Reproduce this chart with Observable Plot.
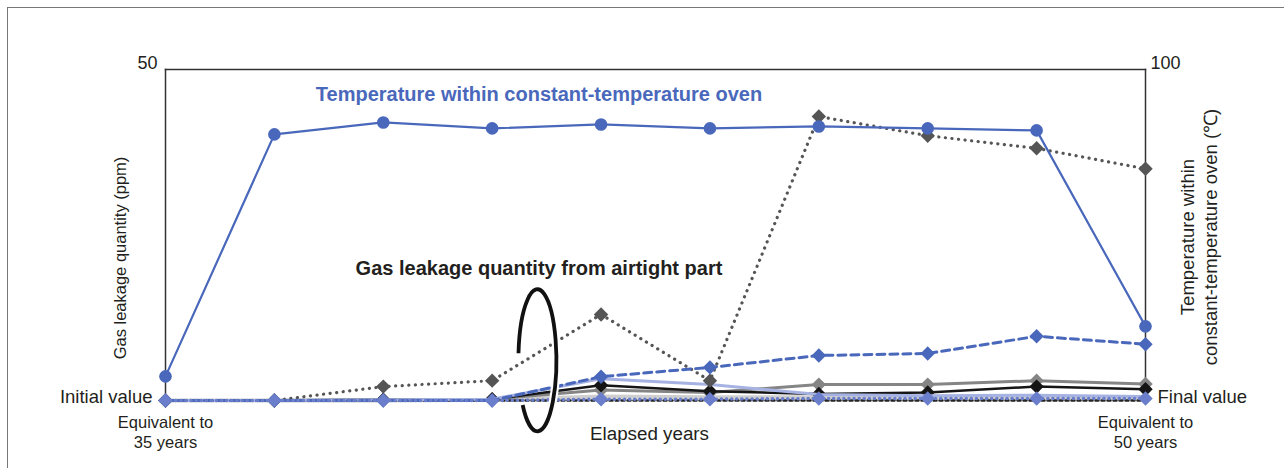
<!DOCTYPE html>
<html>
<head>
<meta charset="utf-8">
<script src="https://cdn.jsdelivr.net/npm/d3@7"></script>
<script src="https://cdn.jsdelivr.net/npm/@observablehq/plot@0.6"></script>
<style>
  html, body { margin: 0; padding: 0; background: #fff; }
  #wrap { position: relative; width: 1284px; height: 468px; overflow: hidden; }
  #frame { position: absolute; left: 7px; top: 7px; width: 1400px; height: 600px;
           border-left: 1px solid #777; border-top: 1px solid #777; }
  #chart { position: absolute; left: 0; top: 0; }
</style>
</head>
<body>
<div id="wrap"><div id="frame"></div><div id="chart"></div></div>
<script>
// Measurement steps from "equivalent to 35 years" to "equivalent to 50 years"
const steps = [0, 1, 2, 3, 4, 5, 6, 7, 8, 9];
const stepLabels = ["Equivalent to\n35 years", "", "", "", "", "", "", "", "", "Equivalent to\n50 years"];

// Oven temperature (°C, right axis 0–100)
const ovenTemp = [7.3, 80.4, 84.0, 82.2, 83.4, 82.2, 82.8, 82.2, 81.6, 22.4];

// Gas leakage from the airtight part (ppm, left axis 0–50), one array per sample
const leakDarkDotted = [0, 0, 2.1, 3.0, 13.0, 3.0, 42.9, 40.0, 38.1, 35.0];
const leakBlueDashed = [0, 0, 0, 0, 3.6, 5.0, 6.8, 7.1, 9.7, 8.5];
const leakGray       = [0, 0, 0.1, 0.2, 1.6, 1.2, 2.4, 2.4, 3.0, 2.5];
const leakBlack      = [0, 0, 0.1, 0.2, 2.3, 1.4, 1.0, 1.2, 2.1, 1.7];
const leakLightBlue  = [0, 0, 0.1, 0.2, 3.3, 2.4, 0.9, 0.7, 0.8, 0.6];
const leakLightGray  = [0, 0, 0, 0.1, 0.6, 0.5, 0.5, 0.5, 0.5, 0.5];
const leakBlackDot   = [0, 0, 0, 0, 0, 0, 0, 0, 0, 0];
const leakBlueDotted = [0, 0, 0, 0, 0.2, 0.2, 0.3, 0.3, 0.3, 0.3];

const ppmMax = 50;
const tempMax = 100;

const BLUE = "#4a68bb";
const TEXT = "#231f20";

const rows = arr => arr.map((v, i) => ({step: steps[i], v}));
// the temperature shares the frame: 100 °C sits at the top like 50 ppm
const tempRows = ovenTemp.map((t, i) => ({step: steps[i], v: t * ppmMax / tempMax}));

function series(arr, line, marker) {
  const d = rows(arr);
  const out = [Plot.line(d, {x: "step", y: "v", ...line})];
  if (marker) out.push(Plot.dot(d, {x: "step", y: "v", symbol: "diamond2", r: 6.5, stroke: null, ...marker}));
  return out;
}

const dotted = {strokeDasharray: "0.1 6.5", strokeLinecap: "round"};

const chart = Plot.plot({
  width: 1284,
  height: 468,
  marginLeft: 165,
  marginRight: 139,
  marginTop: 69,
  marginBottom: 68,
  style: {fontFamily: "'Liberation Sans', Arial, Helvetica, sans-serif", color: TEXT, background: "transparent"},
  x: {domain: [0, 9], axis: null},
  y: {domain: [0, ppmMax], axis: null},
  marks: [
    // frame: top, left and right edges
    Plot.frame({anchor: "top", stroke: "#333", strokeWidth: 1.5}),
    Plot.frame({anchor: "left", stroke: "#333", strokeWidth: 1.5}),
    Plot.frame({anchor: "right", stroke: "#333", strokeWidth: 1.5}),

    // left axis (ppm)
    Plot.axisY([ppmMax], {anchor: "left", tickSize: 0, tickPadding: 8, dy: -6, fontSize: 18, tickFormat: () => "50", label: null}),
    Plot.axisY([0], {anchor: "left", tickSize: 0, tickPadding: 13, dy: -3, fontSize: 18.5, tickFormat: () => "Initial value", label: null}),
    // right axis (°C)
    Plot.axisY([ppmMax], {anchor: "right", tickSize: 0, tickPadding: 5, dy: -6, fontSize: 18, tickFormat: () => "100", label: null}),
    Plot.axisY([0], {anchor: "right", tickSize: 0, tickPadding: 12, dy: -3, fontSize: 18.5, tickFormat: () => "Final value", label: null}),
    // x axis labels
    Plot.text(steps.filter((s, i) => stepLabels[i]), {x: d => d, y: 0, text: d => stepLabels[d], dy: 31, fontSize: 16.5, lineHeight: 1.22, fill: TEXT}),
    Plot.text(["Elapsed years"], {frameAnchor: "bottom", textAnchor: "middle", lineAnchor: "middle", dx: -6, dy: 33, fontSize: 18.8, fill: TEXT}),

    // axis titles
    Plot.text(["Gas leakage quantity (ppm)"], {frameAnchor: "left", textAnchor: "middle", lineAnchor: "middle", dx: -45, dy: 23, rotate: -90, fontSize: 16.5, fill: TEXT}),
    Plot.text(["Temperature within\nconstant-temperature oven (℃)"], {frameAnchor: "right", textAnchor: "middle", lineAnchor: "middle", dx: 53, dy: 2, rotate: -90, fontSize: 18.5, lineHeight: 1.24, fill: TEXT}),

    // gas leakage samples
    ...series(leakLightGray, {stroke: "#cfcfcf", strokeWidth: 4}),
    ...series(leakBlackDot, {stroke: "#222", strokeWidth: 2.5, strokeDasharray: "3 3"}),
    ...series(leakGray, {stroke: "#858585", strokeWidth: 3}, {fill: "#858585"}),
    ...series(leakBlack, {stroke: "#151515", strokeWidth: 2.5}, {fill: "#151515"}),
    ...series(leakLightBlue, {stroke: "#a6b2e2", strokeWidth: 3}),
    ...series(leakDarkDotted, {stroke: "#555", strokeWidth: 3.2, ...dotted}, {fill: "#555"}),
    ...series(leakBlueDashed, {stroke: BLUE, strokeWidth: 3, strokeDasharray: "8 5"}, {fill: BLUE}),
    ...series(leakBlueDotted, {stroke: "#6a7ecb", strokeWidth: 3.5, ...dotted, strokeDasharray: "0.1 5"}, {fill: "#6a7ecb"}),

    // oven temperature
    Plot.line(tempRows, {x: "step", y: "v", stroke: BLUE, strokeWidth: 2.2}),
    Plot.dot(tempRows, {x: "step", y: "v", r: 6.3, fill: BLUE, stroke: null}),

    // annotations
    Plot.text(["Temperature within constant-temperature oven"], {x: 3.43, y: 46.2, fontSize: 20, fontWeight: "bold", fill: BLUE}),
    Plot.text(["Gas leakage quantity from airtight part"], {x: 3.43, y: 19.9, fontSize: 20, fontWeight: "bold", fill: TEXT})
  ]
});

document.getElementById("chart").appendChild(chart);

// bracket ellipse grouping the leakage curves, open on its lower-left side
const sx = chart.scale("x"), sy = chart.scale("y");
const cx = sx.apply(3.42), cy = sy.apply(6.0);
const rx = 19, ry = 71;
const a0 = Math.PI + 0.1, a1 = 2.46 + 2 * Math.PI;
const p0 = [cx + rx * Math.cos(a0), cy + ry * Math.sin(a0)];
const p1 = [cx + rx * Math.cos(a1), cy + ry * Math.sin(a1)];
const dPath = `M${p0[0]},${p0[1]}A${rx},${ry} 0 1 1 ${p1[0]},${p1[1]}`;
const svg = d3.select(chart);
svg.append("path").attr("d", dPath).attr("fill", "none").attr("stroke", "#fff").attr("stroke-width", 8);
svg.append("path").attr("d", dPath).attr("fill", "none").attr("stroke", "#111").attr("stroke-width", 3.8);
</script>
</body>
</html>
